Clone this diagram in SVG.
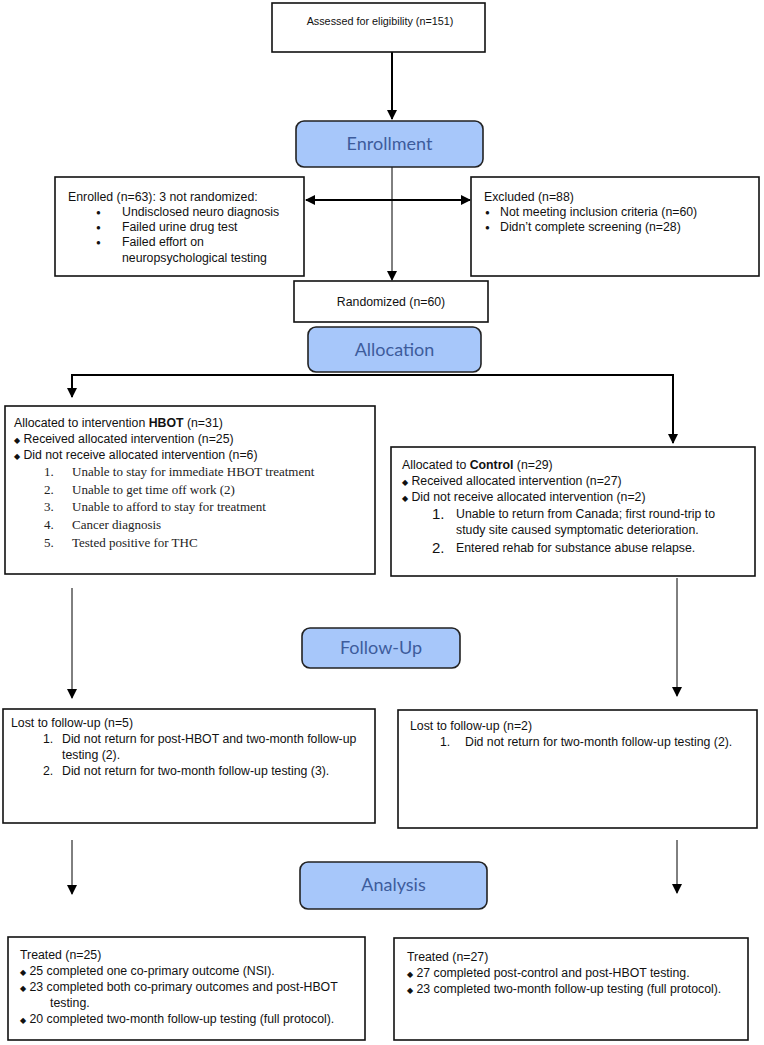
<svg xmlns="http://www.w3.org/2000/svg" width="764" height="1045" viewBox="0 0 764 1045">
<defs>
<marker id="ahb" viewBox="0 0 10 10" refX="9" refY="5" markerWidth="10" markerHeight="11" orient="auto-start-reverse" markerUnits="userSpaceOnUse">
<path d="M0,0 L10,5 L0,10 z" fill="#000"/>
</marker>
</defs>
<style>
.box{fill:#fff;stroke:#111;stroke-width:1.6}
.stage{fill:#a7c7fa;stroke:#222;stroke-width:1.6}
.st{font-family:"Lato","Open Sans","Liberation Sans",sans-serif;font-size:18px;fill:#3d5c9c;text-anchor:middle}
.t{font-family:"Liberation Sans",Arial,sans-serif;font-size:12.3px;fill:#111}
.s{font-family:"Liberation Serif","Times New Roman",serif;font-size:13px;fill:#222}
.b{font-weight:bold}
.dot{font-size:8px}
.num{font-size:15px}
.thick{stroke:#000;stroke-width:2;fill:none}
.thin{stroke:#000;stroke-width:1;fill:none}
</style>
<rect width="764" height="1045" fill="#fff"/>
<g id="connectors">
<line class="thick" x1="392" y1="52" x2="392" y2="119" marker-end="url(#ahb)"/>
<line class="thin" x1="392" y1="167" x2="392" y2="280" marker-end="url(#ahb)"/>
<line class="thick" x1="306" y1="200" x2="470" y2="200" marker-start="url(#ahb)" marker-end="url(#ahb)"/>
<polyline class="thick" points="72,397 72,375 673,375 673,443" marker-start="url(#ahb)" marker-end="url(#ahb)"/>
<line class="thin" x1="72" y1="588" x2="72" y2="698" marker-end="url(#ahb)"/>
<line class="thin" x1="677" y1="578" x2="677" y2="696" marker-end="url(#ahb)"/>
<line class="thin" x1="72" y1="840" x2="72" y2="894" marker-end="url(#ahb)"/>
<line class="thin" x1="677" y1="840" x2="677" y2="893" marker-end="url(#ahb)"/>
</g>
<g id="assessed">
<rect class="box" x="272" y="3" width="213" height="49"/>
<text class="t" x="380" y="25" text-anchor="middle" style="font-size:10.8px">Assessed for eligibility (n=151)</text>
</g>
<g id="enrollment">
<rect class="stage" x="296" y="121" width="187" height="46" rx="8"/>
<text class="st" x="389.5" y="150">Enrollment</text>
</g>
<g id="enrolled">
<rect class="box" x="55" y="177" width="249" height="99"/>
<text class="t" x="68" y="201">Enrolled (n=63): 3 not randomized:</text>
<text class="t" x="96" y="215"><tspan class="dot">●</tspan></text><text class="t" x="122" y="216">Undisclosed neuro diagnosis</text>
<text class="t" x="96" y="230"><tspan class="dot">●</tspan></text><text class="t" x="122" y="231">Failed urine drug test</text>
<text class="t" x="96" y="245"><tspan class="dot">●</tspan></text><text class="t" x="122" y="246">Failed effort on</text>
<text class="t" x="122" y="262">neuropsychological testing</text>
</g>
<g id="excluded">
<rect class="box" x="471" y="177" width="288" height="99"/>
<text class="t" x="484" y="201">Excluded (n=88)</text>
<text class="t" x="485" y="215"><tspan class="dot">●</tspan></text><text class="t" x="500" y="216">Not meeting inclusion criteria (n=60)</text>
<text class="t" x="485" y="230"><tspan class="dot">●</tspan></text><text class="t" x="500" y="231">Didn’t complete screening (n=28)</text>
</g>
<g id="randomized">
<rect class="box" x="294" y="281" width="194" height="41"/>
<text class="t" x="391" y="306" text-anchor="middle">Randomized (n=60)</text>
</g>
<g id="allocation">
<rect class="stage" x="308" y="327" width="173" height="45" rx="8"/>
<text class="st" x="394.5" y="356">Allocation</text>
</g>
<g id="intervention">
<rect class="box" x="5" y="406" width="370" height="168"/>
<text class="t" x="14" y="427">Allocated to intervention <tspan class="b">HBOT</tspan> (n=31)</text>
<text class="t" x="14" y="443"><tspan class="dot">◆</tspan> Received allocated intervention (n=25)</text>
<text class="t" x="14" y="459"><tspan class="dot">◆</tspan> Did not receive allocated intervention (n=6)</text>
<text class="s" x="44" y="476">1.</text><text class="s" x="72" y="476">Unable to stay for immediate HBOT treatment</text>
<text class="s" x="44" y="494">2.</text><text class="s" x="72" y="494">Unable to get time off work (2)</text>
<text class="s" x="44" y="511">3.</text><text class="s" x="72" y="511">Unable to afford to stay for treatment</text>
<text class="s" x="44" y="529">4.</text><text class="s" x="72" y="529">Cancer diagnosis</text>
<text class="s" x="44" y="547">5.</text><text class="s" x="72" y="547">Tested positive for THC</text>
</g>
<g id="control">
<rect class="box" x="391" y="447" width="364" height="129"/>
<text class="t" x="402" y="469">Allocated to <tspan class="b">Control</tspan> (n=29)</text>
<text class="t" x="402" y="485"><tspan class="dot">◆</tspan> Received allocated intervention (n=27)</text>
<text class="t" x="402" y="501"><tspan class="dot">◆</tspan> Did not receive allocated intervention (n=2)</text>
<text class="t" x="432" y="519"><tspan class="num">1.</tspan></text><text class="t" x="456" y="518">Unable to return from Canada; first round-trip to</text>
<text class="t" x="456" y="534">study site caused symptomatic deterioration.</text>
<text class="t" x="432" y="553"><tspan class="num">2.</tspan></text><text class="t" x="456" y="552">Entered rehab for substance abuse relapse.</text>
</g>
<g id="followup">
<rect class="stage" x="302" y="628" width="158" height="40" rx="8"/>
<text class="st" x="381" y="654">Follow-Up</text>
</g>
<g id="lost-left">
<rect class="box" x="3" y="709" width="372" height="114"/>
<text class="t" x="11" y="727">Lost to follow-up (n=5)</text>
<text class="t" x="43" y="743">1.</text><text class="t" x="62" y="743">Did not return for post-HBOT and two-month follow-up</text>
<text class="t" x="62" y="759">testing (2).</text>
<text class="t" x="43" y="775">2.</text><text class="t" x="62" y="775">Did not return for two-month follow-up testing (3).</text>
</g>
<g id="lost-right">
<rect class="box" x="398" y="710" width="359" height="118"/>
<text class="t" x="410" y="730">Lost to follow-up (n=2)</text>
<text class="t" x="440" y="746">1.</text><text class="t" x="465" y="746">Did not return for two-month follow-up testing (2).</text>
</g>
<g id="analysis">
<rect class="stage" x="300" y="862" width="187" height="47" rx="8"/>
<text class="st" x="393.5" y="891">Analysis</text>
</g>
<g id="treated-left">
<rect class="box" x="8" y="937" width="357" height="103"/>
<text class="t" x="20" y="959">Treated  (n=25)</text>
<text class="t" x="20" y="975"><tspan class="dot">◆</tspan> 25 completed one co-primary outcome (NSI).</text>
<text class="t" x="20" y="991"><tspan class="dot">◆</tspan> 23 completed both co-primary outcomes and post-HBOT</text>
<text class="t" x="50" y="1007">testing.</text>
<text class="t" x="20" y="1023"><tspan class="dot">◆</tspan> 20 completed two-month follow-up testing (full protocol).</text>
</g>
<g id="treated-right">
<rect class="box" x="394" y="938" width="354" height="102"/>
<text class="t" x="407" y="961">Treated  (n=27)</text>
<text class="t" x="407" y="977"><tspan class="dot">◆</tspan> 27 completed post-control and post-HBOT testing.</text>
<text class="t" x="407" y="993"><tspan class="dot">◆</tspan> 23 completed two-month follow-up testing (full protocol).</text>
</g>
</svg>
